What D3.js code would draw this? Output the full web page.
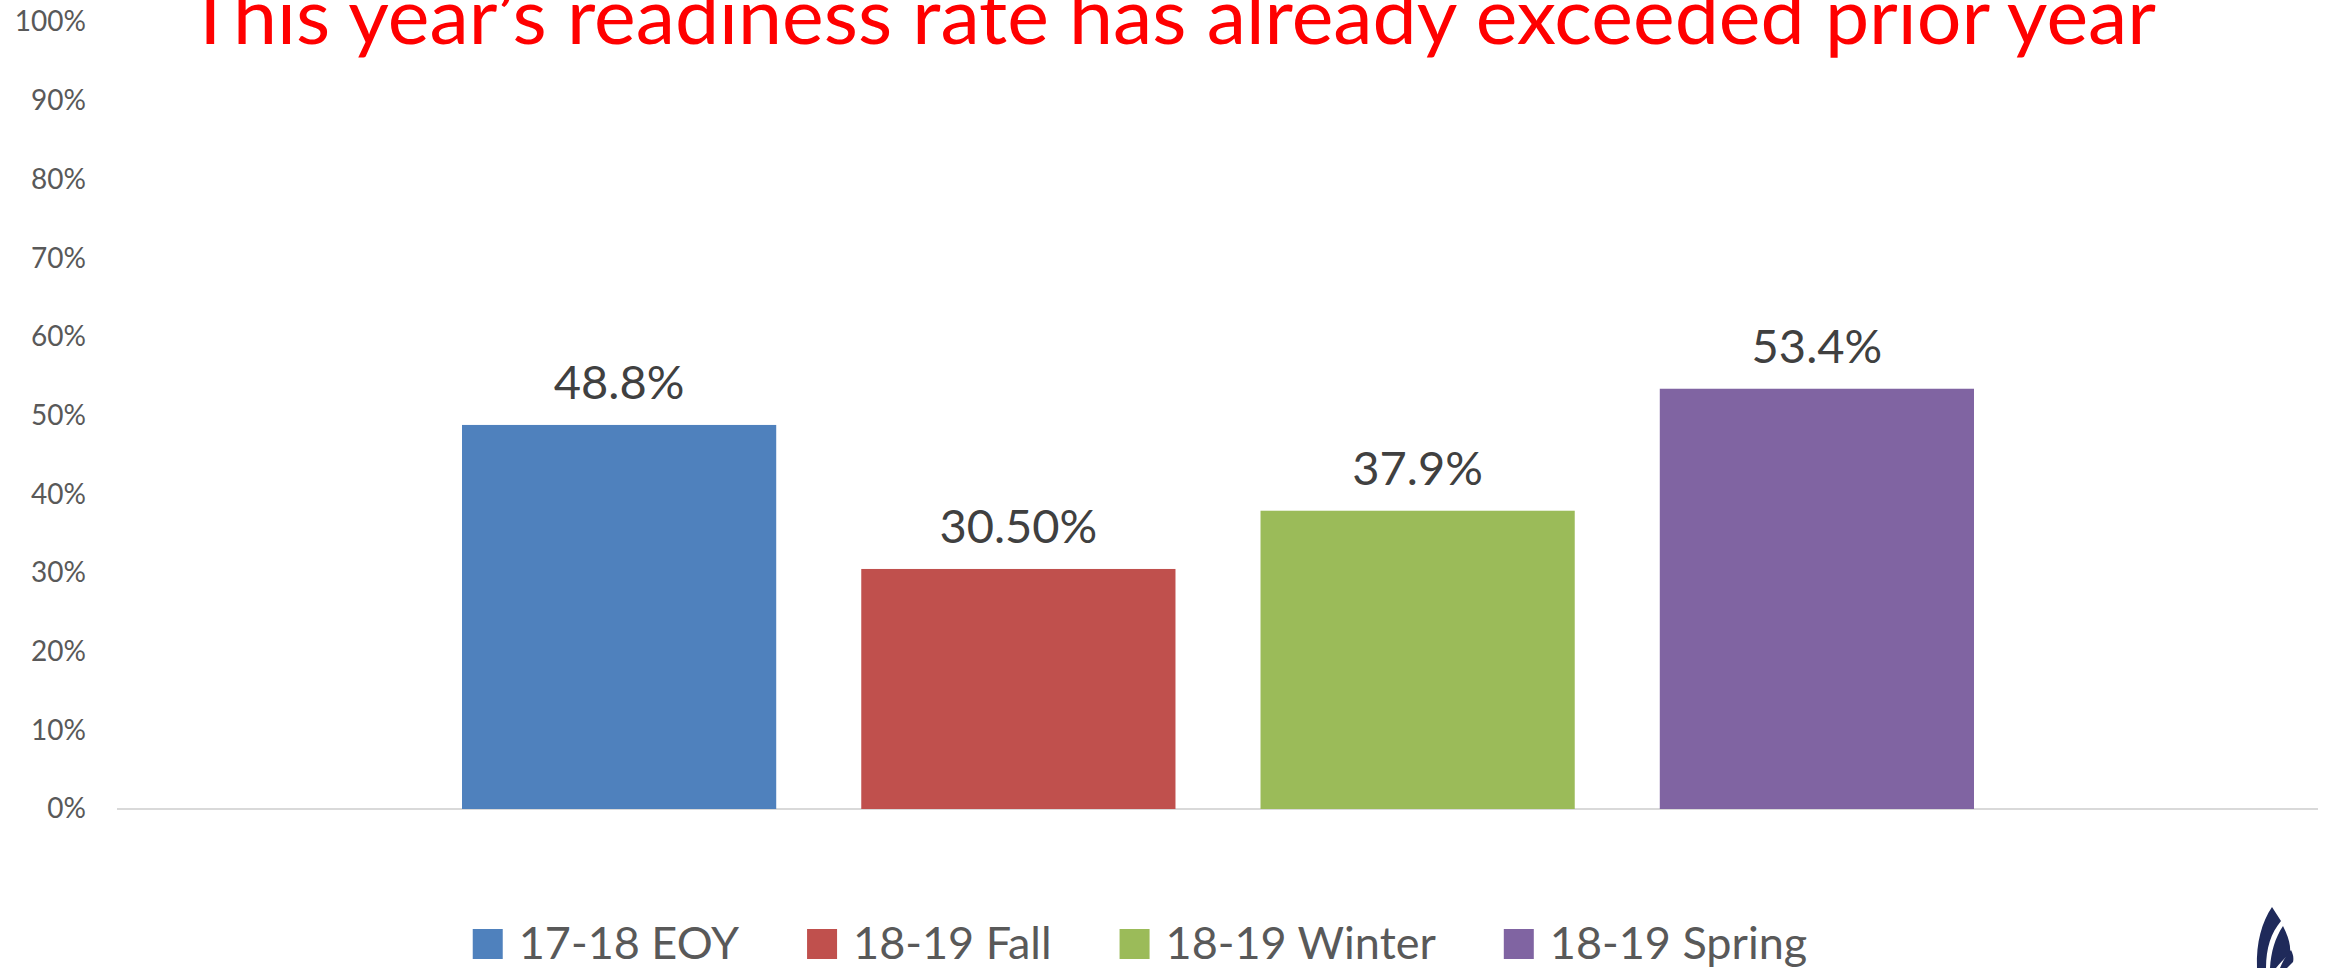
<!DOCTYPE html>
<html>
<head>
<meta charset="utf-8">
<script src="https://cdnjs.cloudflare.com/ajax/libs/d3/7.8.5/d3.min.js"></script>
<style>
    html, body { margin: 0; padding: 0; background: #ffffff; }
    svg { display: block; font-family: Lato, "Open Sans", sans-serif; }
</style>
</head>
<body>
<div id="chart"></div>
<script>
// chart data
var seriesNames = ["17-18 EOY", "18-19 Fall", "18-19 Winter", "18-19 Spring"];
var seriesValues = [0.488, 0.305, 0.379, 0.534];
var valueLabels = ["48.8%", "30.50%", "37.9%", "53.4%"];
var seriesColors = ["#4F81BD", "#C0504D", "#9BBB59", "#8064A2"];
var yTicks = [0, 0.1, 0.2, 0.3, 0.4, 0.5, 0.6, 0.7, 0.8, 0.9, 1];
var titleText = "This year\u2019s readiness rate has already exceeded prior year";

var app = app || {};

app.BarChart = (function () {
    'use strict';

    var init = function (baseElement) {
        var config = configure(d3.select(baseElement));
        structure(config);
        axes(config);
        bars(config);
        legend(config);
        logo(config);
        return config;
    };

    var configure = function (base) {
        var m = {
            width: 2336,
            height: 968,
            plotLeft: 117,
            plotRight: 2318,
            plotTop: 22,
            plotBottom: 809,
            barsLeft: 462,
            barsRight: 1974
        };

        var x = d3.scaleBand()
            .domain(seriesNames)
            .range([m.barsLeft, m.barsRight])
            .paddingInner(0.213)
            .paddingOuter(0);

        var y = d3.scaleLinear()
            .domain([0, 1])
            .range([m.plotBottom, m.plotTop]);

        return { base: base, m: m, x: x, y: y };
    };

    var structure = function (config) {
        var svg = config.base.append("svg")
            .attr("width", config.m.width)
            .attr("height", config.m.height);

        // title, partly cut by the top edge like the slide
        svg.append("text")
            .attr("x", 187)
            .attr("y", 44)
            .attr("textLength", 1969)
            .attr("lengthAdjust", "spacingAndGlyphs")
            .style("font-size", "78px")
            .style("fill", "#FF0000")
            .text(titleText);

        config.svg = svg;
    };

    var axes = function (config) {
        var yAxis = d3.axisLeft(config.y)
            .tickValues(yTicks)
            .tickFormat(d3.format(".0%"))
            .tickSize(0)
            .tickPadding(31);

        var g = config.svg.append("g")
            .attr("transform", "translate(" + config.m.plotLeft + ",0)")
            .call(yAxis);
        g.select(".domain").remove();
        g.selectAll("text")
            .style("font-family", "Lato, 'Open Sans', sans-serif")
            .style("font-size", "28px")
            .style("fill", "#595959");

        // baseline
        config.svg.append("line")
            .attr("x1", config.m.plotLeft)
            .attr("x2", config.m.plotRight)
            .attr("y1", config.y(0))
            .attr("y2", config.y(0))
            .style("stroke", "#D9D9D9")
            .style("stroke-width", 2);
    };

    var bars = function (config) {
        var data = seriesNames.map(function (name, i) {
            return { name: name, value: seriesValues[i], label: valueLabels[i], color: seriesColors[i] };
        });

        config.svg.append("g").selectAll("rect")
            .data(data)
            .enter()
            .append("rect")
            .attr("x", function (d) { return config.x(d.name); })
            .attr("width", config.x.bandwidth())
            .attr("y", function (d) { return config.y(d.value); })
            .attr("height", function (d) { return config.y(0) - config.y(d.value); })
            .attr("fill", function (d) { return d.color; });

        config.svg.append("g").selectAll("text")
            .data(data)
            .enter()
            .append("text")
            .attr("x", function (d) { return config.x(d.name) + config.x.bandwidth() / 2; })
            .attr("y", function (d) { return config.y(d.value) - 26; })
            .attr("text-anchor", "middle")
            .style("font-size", "47px")
            .style("fill", "#404040")
            .text(function (d) { return d.label; });
    };

    var legend = function (config) {
        var swatch = 30, textGap = 16, itemGap = 68, center = 1140, baseY = 959;
        var g = config.svg.append("g");

        var items = g.selectAll("g")
            .data(seriesNames)
            .enter()
            .append("g");

        items.append("rect")
            .attr("width", swatch)
            .attr("height", swatch)
            .attr("y", baseY - swatch)
            .attr("fill", function (d, i) { return seriesColors[i]; });

        items.append("text")
            .attr("x", swatch + textGap)
            .attr("y", baseY)
            .style("font-size", "45px")
            .style("fill", "#595959")
            .text(function (d) { return d; });

        // lay items out from the measured text widths
        var widths = [];
        items.select("text").each(function () {
            widths.push(swatch + textGap + this.getComputedTextLength());
        });
        var total = d3.sum(widths) + itemGap * (widths.length - 1);
        var pos = center - total / 2;
        items.attr("transform", function (d, i) {
            var t = "translate(" + pos + ",0)";
            pos += widths[i] + itemGap;
            return t;
        });
    };

    var logo = function (config) {
        var g = config.svg.append("g").attr("fill", "#1F2A5A");
        g.append("path")
            .attr("d", "M2272,907 C2262,922 2256,942 2257,968 L2266,968 C2266,948 2271,933 2281,921 Z");
        g.append("path")
            .attr("d", "M2283,926 C2288,936 2291,945 2290,953 C2285,958 2280,963 2276,968 L2270,968 C2271,952 2275,938 2283,926 Z");
        g.append("path")
            .attr("d", "M2291,950 C2293,954 2294,958 2293,962 L2287,968 L2280,968 C2283,961 2286,955 2291,950 Z");
    };

    return { init: init };
}());

app.BarChart.init("#chart");
</script>
</body>
</html>
